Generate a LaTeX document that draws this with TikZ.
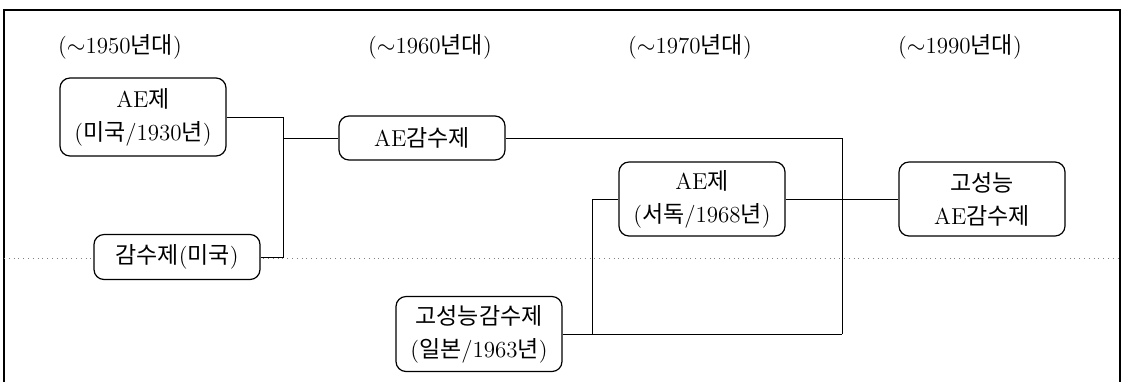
\documentclass[tikz,border=0pt]{standalone}
\usepackage{fontspec}
\newfontfamily\kr{Noto Sans CJK KR}
\newcommand{\K}[1]{{\kr #1}}
\begin{document}
\begin{tikzpicture}[x=0.5pt,y=-0.5pt,
  every node/.style={font=\fontsize{11.5}{16.5}\selectfont},
  box/.style={draw, line width=0.6pt, rounded corners=5pt, fill=white, align=center,
    minimum width=83pt, inner sep=0pt},
  conn/.style={line width=0.5pt},
  frame/.style={line width=0.6pt},
  hdr/.style={inner sep=0pt}]
\useasboundingbox (0,0) rectangle (1124,382);
% frame
\draw[frame] (4,382) -- (4,10) -- (1120,10) -- (1120,382);
% dotted divider
\draw[line width=0.4pt, dotted, gray] (4,258) -- (1120,258);
% headers
\node[hdr] (h1) at (120,47) {($\sim$1950\K{년대})};
\node[hdr] (h2) at (430,47) {($\sim$1960\K{년대})};
\node[hdr] (h3) at (690,47) {($\sim$1970\K{년대})};
\node[hdr] (h4) at (960,47) {($\sim$1990\K{년대})};
% boxes
\node[box, minimum height=39pt] (b1) at (143,117) {AE\K{제}\\(\K{미국}/1930\K{년})};
\node[box, minimum height=22.5pt] (b2) at (177,257) {\K{감수제}(\K{미국})};
\node[box, minimum height=22pt] (aes) at (422,138) {AE\K{감수제}};
\node[box, minimum height=37pt] (ae68) at (702,199) {AE\K{제}\\(\K{서독}/1968\K{년})};
\node[box, minimum height=37pt] (hpae) at (982,199) {\K{고성능}\\AE\K{감수제}};
\node[box, minimum height=37.5pt] (hp) at (479,334) {\K{고성능감수제}\\(\K{일본}/1963\K{년})};
% junctions
\coordinate (j1) at (283,138);
\coordinate (j2) at (842,334);
\coordinate (j3) at (592,334);
% connectors
\draw[conn] (b1.east) -| (j1);
\draw[conn] (b2.east) -| (j1);
\draw[conn] (j1) -- (aes.west);
\draw[conn] (aes.east) -| (j2);
\draw[conn] (j2) -- (hp.east);
\draw[conn] (j3) |- (ae68.west);
\draw[conn] (ae68.east) -- (hpae.west);
\end{tikzpicture}
\end{document}
